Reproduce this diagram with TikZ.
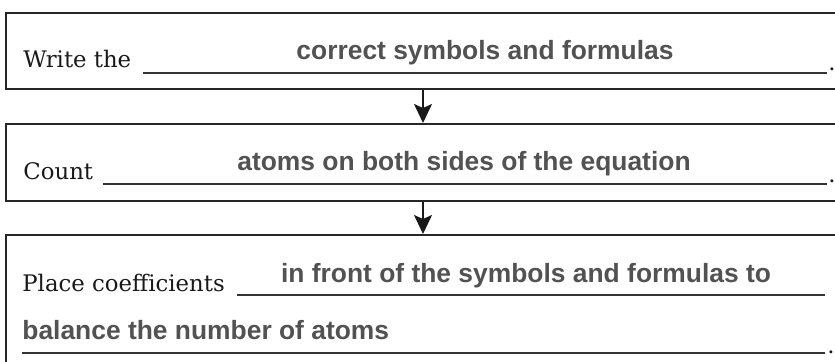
\documentclass[tikz,border=0pt]{standalone}
\usepackage{fontspec}
\setmainfont{DejaVu Serif}
\newfontfamily\answerfont{Liberation Sans}
\usetikzlibrary{arrows.meta,positioning}

\begin{document}
\begin{tikzpicture}[
    x=0.5pt, y=-0.5pt,
    stepbox/.style={draw=black!85, line width=1pt, minimum width=417pt, anchor=north west, inner sep=0pt},
    prompt/.style={anchor=base west, inner sep=0pt, text=black!90, font=\fontsize{11.4}{13}\selectfont},
    answer/.style={anchor=base, inner sep=0pt, text=black!68, font=\answerfont\bfseries\fontsize{13.2}{15}\selectfont},
    blank/.style={draw=black!80, line width=1pt},
    every edge/.style={draw, black!90, line width=0.8pt, -{Stealth[length=9.5pt, width=9pt, inset=2pt]}}
]
\useasboundingbox (0,0) rectangle (835,362);
\clip (0,0) rectangle (835,362);

\node[stepbox, minimum height=38pt] (write) at (5,12) {};
\node[stepbox, minimum height=38.5pt] (count) at (5,123) {};
\node[stepbox, minimum height=70pt] (place) at (5,234) {};

\path (write) edge (count);
\path (count) edge (place);

% step 1
\node[prompt] (writetxt) at (23,68) {Write the};
\draw[blank] (143,73) -- (827,73);
\node[prompt] (writedot) at (828,71) {.};
\node[answer] (writeans) at (485,60) {correct symbols and formulas};

% step 2
\node[prompt] (counttxt) at (23,180) {Count};
\draw[blank] (103,184) -- (827,184);
\node[prompt] (countdot) at (828,183) {.};
\node[answer] (countans) at (464,171) {atoms on both sides of the equation};

% step 3
\node[prompt] (placetxt) at (22,292) {Place coefficients};
\draw[blank] (237,295) -- (825,295);
\node[answer] (placeans) at (526,283) {in front of the symbols and formulas to};
\node[answer, anchor=base west] (placeans2) at (22,340) {balance the number of atoms};
\draw[blank] (22,353) -- (825,353);
\node[prompt] (placedot) at (827,354) {.};

\end{tikzpicture}
\end{document}
